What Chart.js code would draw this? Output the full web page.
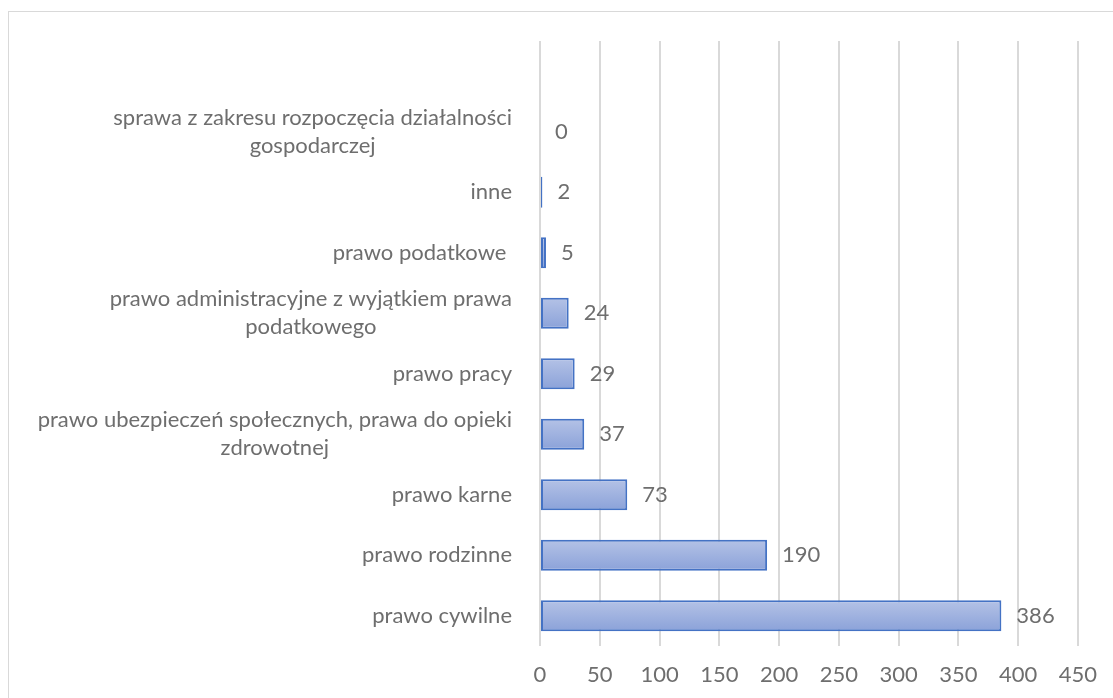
<!DOCTYPE html>
<html>
<head>
<meta charset="utf-8">
<script src="https://cdn.jsdelivr.net/npm/chart.js@4/dist/chart.umd.min.js"></script>
<style>
  html, body { margin: 0; padding: 0; background: #fff; overflow: hidden; }
  #wrap { position: relative; width: 1113px; height: 698px; overflow: hidden; }
  #frame { position: absolute; left: 8px; top: 11px; width: 1130px; height: 720px;
           border: 1.5px solid #d9d9d9; box-sizing: border-box; }
  canvas { position: absolute; left: 0; top: 0; }
</style>
</head>
<body>
<div id="wrap">
  <div id="frame"></div>
  <canvas id="chart" width="1113" height="698"></canvas>
</div>
<script>
// Categories, top to bottom (the first row is an empty category slot)
const categories = [
  '',
  ['sprawa z zakresu rozpoczęcia działalności', 'gospodarczej'],
  'inne',
  'prawo podatkowe ',
  ['prawo administracyjne z wyjątkiem prawa', 'podatkowego'],
  'prawo pracy',
  ['prawo ubezpieczeń społecznych, prawa do opieki', 'zdrowotnej'],
  'prawo karne',
  'prawo rodzinne',
  'prawo cywilne'
];
// Number of cases per category
const counts = [null, 0, 2, 5, 24, 29, 37, 73, 190, 386];
// Value axis tick labels
const xTicks = [0, 50, 100, 150, 200, 250, 300, 350, 400, 450];

const FONT_FAMILY = 'Lato, "Open Sans", sans-serif';
const FONT_SIZE = 22;
const TEXT_COLOR = '#6e6e6e';
const GRID_COLOR = '#d9d9d9';
const BAR_FRACTION = 0.51;

// Category labels: block right-aligned against the axis, lines centred within the block
const categoryLabels = {
  id: 'categoryLabels',
  afterDraw(chart) {
    const { ctx, chartArea } = chart;
    const ys = chart.scales.y;
    const right = chartArea.left - 28;
    const lineH = 28;
    ctx.save();
    ctx.font = FONT_SIZE + 'px ' + FONT_FAMILY;
    ctx.fillStyle = TEXT_COLOR;
    ctx.textAlign = 'center';
    ctx.textBaseline = 'middle';
    categories.forEach((lab, i) => {
      const lines = Array.isArray(lab) ? lab : [lab];
      if (!lines.join('').trim()) return;
      const w = Math.max(...lines.map(l => ctx.measureText(l).width));
      const cx = right - w / 2;
      const cy = ys.getPixelForValue(i);
      lines.forEach((l, k) => {
        ctx.fillText(l, cx, cy + (k - (lines.length - 1) / 2) * lineH);
      });
    });
    ctx.restore();
  }
};

// Value labels just past the end of each bar
const valueLabels = {
  id: 'valueLabels',
  afterDatasetsDraw(chart) {
    const { ctx } = chart;
    const meta = chart.getDatasetMeta(0);
    ctx.save();
    ctx.font = FONT_SIZE + 'px ' + FONT_FAMILY;
    ctx.fillStyle = TEXT_COLOR;
    ctx.textAlign = 'left';
    ctx.textBaseline = 'middle';
    meta.data.forEach((bar, i) => {
      if (counts[i] === null || counts[i] === undefined) return;
      ctx.fillText(String(counts[i]), bar.x + 15, bar.y);
    });
    ctx.restore();
  }
};

function barGradient(c) {
  const chart = c.chart;
  const ys = chart.scales && chart.scales.y;
  if (c.type !== 'data' || !chart.chartArea || !ys || !ys.height) return '#a0b2e0';
  const mid = ys.getPixelForValue(c.dataIndex);
  const half = (ys.height / categories.length) * BAR_FRACTION / 2;
  const g = chart.ctx.createLinearGradient(0, mid - half, 0, mid + half);
  g.addColorStop(0, '#b4c2e6');
  g.addColorStop(1, '#8ba2d9');
  return g;
}

new Chart(document.getElementById('chart'), {
  type: 'bar',
  data: {
    labels: categories,
    datasets: [{
      data: counts,
      backgroundColor: barGradient,
      borderColor: '#4472c4',
      borderWidth: 2,
      borderSkipped: false,
      barPercentage: BAR_FRACTION,
      categoryPercentage: 1
    }]
  },
  options: {
    indexAxis: 'y',
    responsive: false,
    animation: false,
    devicePixelRatio: 1,
    layout: { padding: { top: 41, right: 33, bottom: 0, left: 0 } },
    plugins: { legend: { display: false }, tooltip: { enabled: false } },
    scales: {
      x: {
        min: 0,
        max: 450,
        afterBuildTicks(scale) { scale.ticks = xTicks.map(v => ({ value: v })); },
        afterFit(scale) { scale.height = 52; },
        grid: { color: GRID_COLOR, lineWidth: 2, drawTicks: false, tickLength: 0 },
        border: { display: false },
        ticks: {
          color: TEXT_COLOR,
          padding: 16,
          font: { family: FONT_FAMILY, size: FONT_SIZE },
          maxRotation: 0
        }
      },
      y: {
        afterFit(scale) { scale.width = 540; },
        grid: { display: false },
        border: { display: false },
        ticks: { display: false }
      }
    }
  },
  plugins: [categoryLabels, valueLabels]
});
</script>
</body>
</html>
